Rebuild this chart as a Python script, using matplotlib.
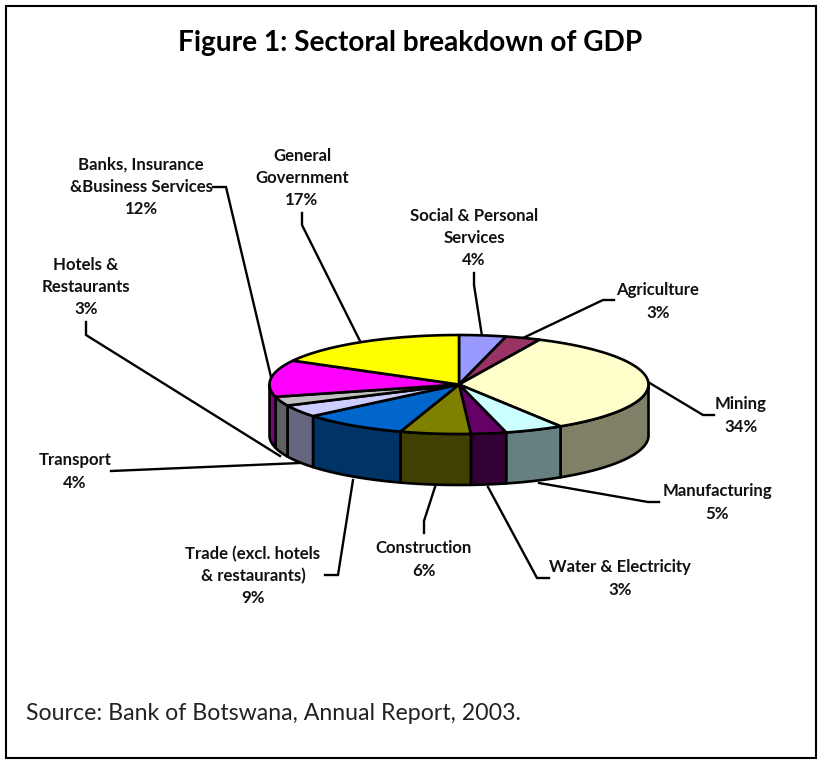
import numpy as np
import matplotlib
matplotlib.use("Agg")
import matplotlib.pyplot as plt
from matplotlib.patches import Polygon, Rectangle

# sectors run clockwise from twelve o'clock
sectors = ["Social & Personal\nServices", "Agriculture", "Mining", "Manufacturing",
           "Water & Electricity", "Construction", "Trade (excl. hotels\n& restaurants)",
           "Transport", "Hotels &\nRestaurants", "Banks, Insurance\n&Business Services",
           "General\nGovernment"]
shares = [4, 3, 34, 5, 3, 6, 9, 4, 3, 12, 17]
top_colors = ["#9999FF", "#993366", "#FFFFCC", "#CCFFFF", "#660066", "#808000",
              "#0066CC", "#CCCCFF", "#C0C0C0", "#FF00FF", "#FFFF00"]
side_colors = ["#4D4D80", "#4D1A33", "#808066", "#668080", "#330033", "#404000",
               "#003366", "#666680", "#606060", "#800080", "#808000"]

# label anchor (centre x, centre y of the block) for each sector
label_pos = [(474, 238), (658, 301.5), (741, 415.5), (717, 502.5), (620, 578.5), (424, 559.5),
             (253, 576), (75, 471.5), (86, 287), (141, 187), (302, 178)]
# leader polylines, pie end last
leaders = [[(474, 273), (474, 285), (482, 336)],
           [(614, 300), (603, 300), (523, 338)],
           [(714, 415), (703, 415), (648, 382)],
           [(659, 502), (648, 502), (539, 483)],
           [(549, 578), (537, 578), (488, 487)],
           [(424, 533), (424, 521), (435, 487)],
           [(325, 575), (338, 575), (353, 480)],
           [(111, 471), (300, 463)],
           [(86, 322), (86, 335), (280, 456)],
           [(213, 187), (226, 187), (271, 377)],
           [(302, 213), (302, 225), (361, 343)]]

cx, cy = 459, 384.5
rx, ry = 189.5, 49.5
depth = 51

FONT = "Lato"


def rim(a0, a1, n=60):
    t = np.radians(np.linspace(a0, a1, n))
    return cx + rx * np.sin(t), cy - ry * np.cos(t)


fig = plt.figure(figsize=(8.21, 7.63), dpi=100)
ax = fig.add_axes([0, 0, 1, 1])
ax.set_xlim(0, 821)
ax.set_ylim(763, 0)
ax.axis("off")

ax.add_patch(Rectangle((6, 6), 810, 752, fc="white", ec="black", lw=1.5))

ax.text(410, 43, "Figure 1: Sectoral breakdown of GDP", ha="center", va="center",
        fontsize=20.2, fontweight="bold", family=FONT)

for line in leaders:
    xs, ys = zip(*line)
    ax.plot(xs, ys, color="black", lw=1.7, zorder=2, solid_joinstyle="miter")

edges = np.cumsum([0] + shares) * 3.6

# side wall, only the front half of the rim shows
for i in range(len(shares)):
    a0, a1 = max(edges[i], 90), min(edges[i + 1], 270)
    if a1 <= a0:
        continue
    x, y = rim(a0, a1)
    pts = np.r_[np.c_[x, y], np.c_[x[::-1], y[::-1] + depth]]
    ax.add_patch(Polygon(pts, fc=side_colors[i], ec="black", lw=1.9, zorder=3,
                         joinstyle="round"))

# top face
for i in range(len(shares)):
    x, y = rim(edges[i], edges[i + 1])
    pts = np.r_[[(cx, cy)], np.c_[x, y]]
    ax.add_patch(Polygon(pts, fc=top_colors[i], ec="black", lw=1.9, zorder=4,
                         joinstyle="round"))

for name, share, (lx, ly) in zip(sectors, shares, label_pos):
    ax.text(lx, ly, f"{name}\n{share}%", ha="center", va="center", fontsize=12.1,
            fontweight="bold", family=FONT, linespacing=1.47, color="#111111", zorder=5)

ax.text(26, 713, "Source: Bank of Botswana, Annual Report, 2003.", ha="left", va="center",
        fontsize=16.7, family=FONT, color="#222222")

fig.savefig("out.png", dpi=100)
